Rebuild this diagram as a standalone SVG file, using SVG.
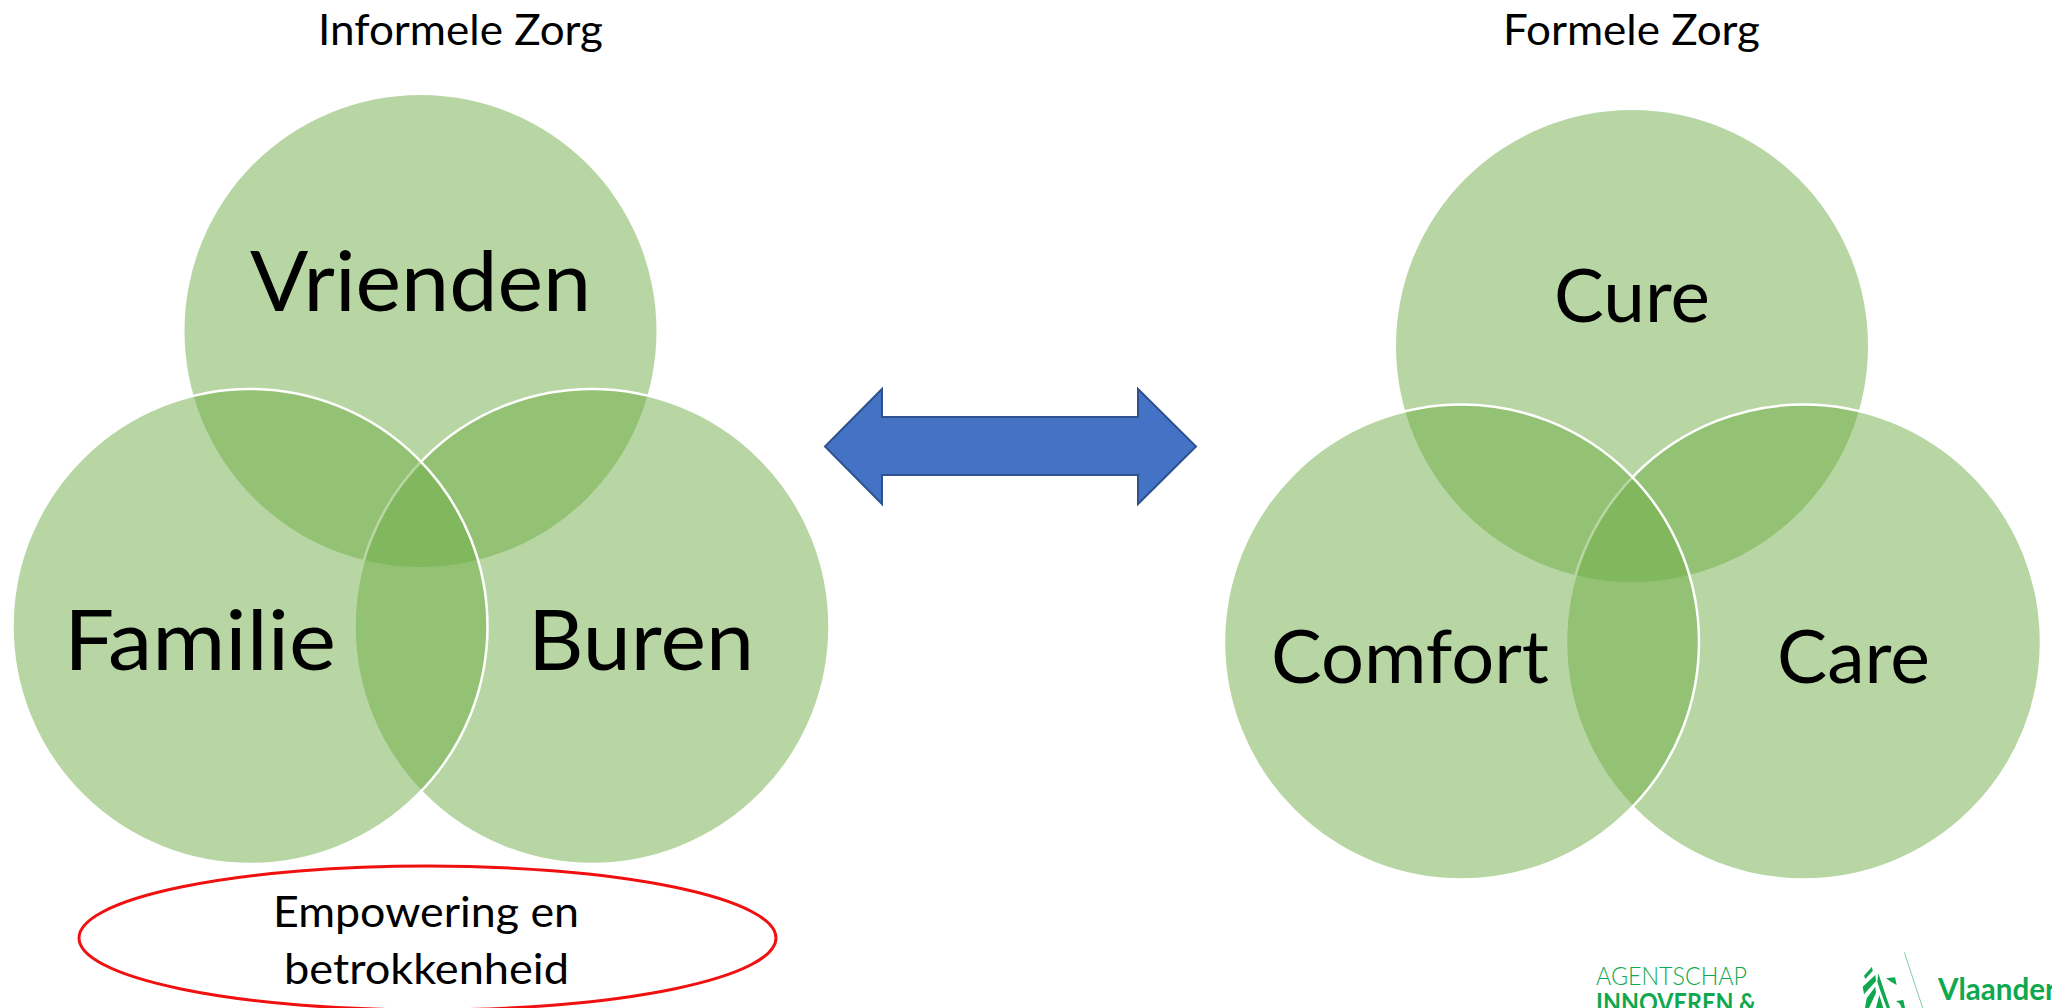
<svg xmlns="http://www.w3.org/2000/svg" width="2052" height="1008" viewBox="0 0 2052 1008">
<style>
text{font-family:Lato,"Open Sans","Liberation Sans",sans-serif;fill:#000;text-anchor:start}
.c{fill:#70AD47;fill-opacity:.5}
.s{stroke:#fff;stroke-width:2.500}
.big{font-size:84px}
.mid{font-size:74px}
.t{font-size:42px}
.e{font-size:42px}
.g{fill:#0fa84f;stroke:none}
.l{fill:#0fa84f}
</style>
<rect width="2052" height="1008" fill="#fff"/>
<g id="title-informeel"><text class="t" x="318" y="45" textLength="285" lengthAdjust="spacingAndGlyphs">Informele Zorg</text></g>
<g id="title-formeel"><text class="t" x="1503" y="45" textLength="257" lengthAdjust="spacingAndGlyphs">Formele Zorg</text></g>
<g id="node-vrienden"><circle class="c" cx="420.500" cy="331" r="236"/></g>
<g id="node-buren"><circle class="c s" cx="592" cy="626.500" r="237.500"/></g>
<g id="node-familie"><circle class="c s" cx="250" cy="626.500" r="237.500"/></g>
<g id="node-cure"><circle class="c" cx="1632" cy="346" r="236"/></g>
<g id="node-care"><circle class="c s" cx="1803.500" cy="642" r="237.500"/></g>
<g id="node-comfort"><circle class="c s" cx="1461.500" cy="642" r="237.500"/></g>
<g id="labels">
<text class="big" x="250" y="311" textLength="341" lengthAdjust="spacingAndGlyphs">Vrienden</text>
<text class="big" x="64" y="670" textLength="272" lengthAdjust="spacingAndGlyphs">Familie</text>
<text class="big" x="528" y="670" textLength="226" lengthAdjust="spacingAndGlyphs">Buren</text>
<text class="mid" x="1554" y="322" textLength="156" lengthAdjust="spacingAndGlyphs">Cure</text>
<text class="mid" x="1271" y="683" textLength="278" lengthAdjust="spacingAndGlyphs">Comfort</text>
<text class="mid" x="1777" y="683" textLength="153" lengthAdjust="spacingAndGlyphs">Care</text>
</g>
<g id="connectors">
<path d="M825 446.500L882 389V417H1138V389L1196 446.500L1138 504V475H882V504Z" fill="#4472C4" stroke="#2F528F" stroke-width="2"/>
</g>
<g id="node-empowering">
<ellipse cx="427.500" cy="938" rx="348.500" ry="72" fill="none" stroke="#f01010" stroke-width="3"/>
<text class="e" x="273" y="927" textLength="306" lengthAdjust="spacingAndGlyphs">Empowering en</text>
<text class="e" x="284" y="984" textLength="285" lengthAdjust="spacingAndGlyphs">betrokkenheid</text>
</g>
<g id="logo">
<text class="l" x="1596" y="985" font-size="25" font-weight="300" textLength="151" lengthAdjust="spacingAndGlyphs">AGENTSCHAP</text>
<text class="l" x="1596" y="1012" font-size="26" font-weight="700" textLength="160" lengthAdjust="spacingAndGlyphs">INNOVEREN &amp;</text>
<text class="l" x="1938" y="1000" font-size="30" font-weight="700" textLength="150" lengthAdjust="spacingAndGlyphs">Vlaanderen</text>
<line x1="1904.300" y1="952.300" x2="1922.700" y2="1008" stroke="#7fcf9f" stroke-width="1"/>
<path class="g" d="M1872 966.700L1864 975.700L1865.300 979L1872.700 971ZM1875.300 975L1862.700 986.700L1864 994.300L1876 981ZM1875.300 986.700L1866.700 998.300L1865 1008H1869L1876 993ZM1878.300 973.300L1890 1008H1886.700L1880 990L1877.300 981.700ZM1876 1008L1879.300 995L1883.300 1008ZM1886 978.300L1895 977.300L1896.700 985L1891.700 982.300ZM1896 1001L1903.300 1000L1905 1008H1901.700L1900 1004Z"/>
</g>
</svg>
